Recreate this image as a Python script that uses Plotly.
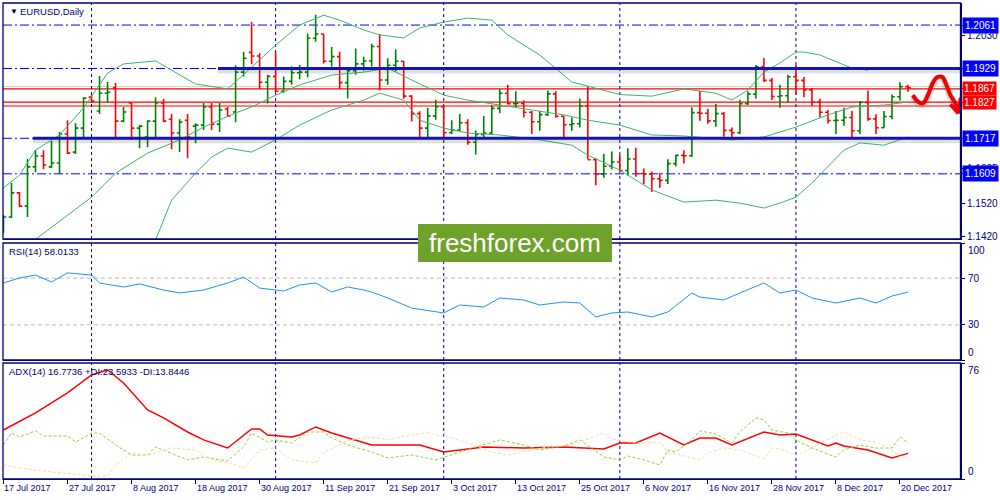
import plotly.graph_objects as go

# bar index 0 = 17 Jul 2017, one bar per trading day
date_ticks = [0, 8, 16, 24, 32, 40, 48, 56, 64, 72, 80, 88, 96, 104, 112]
date_labels = ["17 Jul 2017", "27 Jul 2017", "8 Aug 2017", "18 Aug 2017", "30 Aug 2017",
               "11 Sep 2017", "21 Sep 2017", "3 Oct 2017", "13 Oct 2017", "25 Oct 2017",
               "6 Nov 2017", "16 Nov 2017", "28 Nov 2017", "8 Dec 2017", "20 Dec 2017"]
month_lines = [11, 34, 55, 77, 99]

bar_open = [1.1444, 1.1478, 1.1551, 1.1511, 1.1630, 1.1663, 1.1630, 1.1642, 1.1730, 1.1675,
            1.1748, 1.1842, 1.1800, 1.1854, 1.1870, 1.1769, 1.1824, 1.1748, 1.1721, 1.1769,
            1.1824, 1.1775, 1.1733, 1.1772, 1.1754, 1.1757, 1.1812, 1.1760, 1.1806, 1.1797,
            1.1918, 1.1978, 1.1967, 1.1887, 1.1905, 1.1860, 1.1890, 1.1916, 1.1918, 1.2021,
            1.2034, 1.1951, 1.1965, 1.1886, 1.1922, 1.1943, 1.1952, 1.1996, 1.1894, 1.1939,
            1.1951, 1.1845, 1.1792, 1.1748, 1.1785, 1.1813, 1.1734, 1.1742, 1.1764, 1.1705,
            1.1729, 1.1733, 1.1808, 1.1854, 1.1822, 1.1823, 1.1796, 1.1767, 1.1789, 1.1852,
            1.1784, 1.1758, 1.1761, 1.1815, 1.1652, 1.1608, 1.1632, 1.1645, 1.1619, 1.1654,
            1.1610, 1.1608, 1.1594, 1.1589, 1.1640, 1.1665, 1.1664, 1.1795, 1.1793, 1.1770,
            1.1792, 1.1741, 1.1734, 1.1822, 1.1851, 1.1934, 1.1893, 1.1844, 1.1846, 1.1904,
            1.1893, 1.1864, 1.1827, 1.1796, 1.1771, 1.1772, 1.1780, 1.1740, 1.1826, 1.1776,
            1.1749, 1.1783, 1.1843, 1.1874]
bar_high = [1.1484, 1.1581, 1.1554, 1.1654, 1.1681, 1.1681, 1.1709, 1.1736, 1.1772, 1.1763,
            1.1842, 1.1848, 1.1906, 1.1888, 1.1885, 1.1812, 1.1824, 1.1757, 1.1772, 1.1842,
            1.1836, 1.1791, 1.1775, 1.1791, 1.1763, 1.1824, 1.1824, 1.1824, 1.1812, 1.1939,
            1.1980, 1.2070, 1.1975, 1.1910, 1.1980, 1.1905, 1.1935, 1.1940, 1.2035, 1.2092,
            1.2034, 1.1994, 1.1980, 1.1930, 1.1990, 1.1965, 1.2004, 1.2034, 1.1960, 1.1987,
            1.1952, 1.1848, 1.1799, 1.1810, 1.1834, 1.1815, 1.1772, 1.1791, 1.1775, 1.1741,
            1.1785, 1.1818, 1.1866, 1.1880, 1.1860, 1.1832, 1.1800, 1.1800, 1.1862, 1.1860,
            1.1785, 1.1780, 1.1838, 1.1875, 1.1656, 1.1669, 1.1677, 1.1666, 1.1687, 1.1688,
            1.1625, 1.1616, 1.1612, 1.1653, 1.1667, 1.1681, 1.1811, 1.1861, 1.1806, 1.1821,
            1.1797, 1.1750, 1.1834, 1.1860, 1.1940, 1.1961, 1.1900, 1.1880, 1.1910, 1.1940,
            1.1903, 1.1870, 1.1837, 1.1803, 1.1800, 1.1810, 1.1800, 1.1830, 1.1862, 1.1790,
            1.1800, 1.1850, 1.1887, 1.1880]
bar_low = [1.1429, 1.1475, 1.1508, 1.1478, 1.1614, 1.1623, 1.1627, 1.1608, 1.1669, 1.1669,
           1.1718, 1.1824, 1.1791, 1.1824, 1.1721, 1.1766, 1.1712, 1.1687, 1.1690, 1.1715,
           1.1766, 1.1684, 1.1675, 1.1657, 1.1702, 1.1742, 1.1742, 1.1736, 1.1782, 1.1766,
           1.1905, 1.1942, 1.1867, 1.1823, 1.1857, 1.1855, 1.1880, 1.1896, 1.1902, 1.2010,
           1.1944, 1.1935, 1.1867, 1.1838, 1.1910, 1.1922, 1.1935, 1.1862, 1.1880, 1.1920,
           1.1837, 1.1768, 1.1718, 1.1720, 1.1773, 1.1715, 1.1730, 1.1739, 1.1697, 1.1668,
           1.1715, 1.1729, 1.1793, 1.1820, 1.1811, 1.1780, 1.1730, 1.1740, 1.1785, 1.1780,
           1.1720, 1.1740, 1.1750, 1.1653, 1.1574, 1.1597, 1.1623, 1.1615, 1.1605, 1.1600,
           1.1577, 1.1554, 1.1567, 1.1578, 1.1632, 1.1640, 1.1660, 1.1770, 1.1761, 1.1752,
           1.1722, 1.1715, 1.1729, 1.1818, 1.1838, 1.1888, 1.1833, 1.1810, 1.1826, 1.1850,
           1.1842, 1.1815, 1.1780, 1.1762, 1.1730, 1.1755, 1.1717, 1.1730, 1.1770, 1.1730,
           1.1749, 1.1775, 1.1832, 1.1858]
bar_close = [1.1478, 1.1551, 1.1511, 1.1630, 1.1663, 1.1636, 1.1642, 1.1730, 1.1672, 1.1748,
             1.1839, 1.1830, 1.1854, 1.1857, 1.1769, 1.1797, 1.1748, 1.1754, 1.1769, 1.1824,
             1.1769, 1.1733, 1.1766, 1.1721, 1.1757, 1.1812, 1.1760, 1.1803, 1.1785, 1.1918,
             1.1960, 1.1967, 1.1887, 1.1905, 1.1860, 1.1890, 1.1916, 1.1918, 1.2021, 1.2034,
             1.1951, 1.1965, 1.1886, 1.1922, 1.1943, 1.1952, 1.1996, 1.1894, 1.1939, 1.1951,
             1.1845, 1.1792, 1.1748, 1.1785, 1.1813, 1.1734, 1.1742, 1.1764, 1.1705, 1.1729,
             1.1733, 1.1808, 1.1854, 1.1822, 1.1823, 1.1796, 1.1767, 1.1789, 1.1852, 1.1784,
             1.1758, 1.1761, 1.1815, 1.1652, 1.1608, 1.1632, 1.1645, 1.1619, 1.1654, 1.1610,
             1.1608, 1.1594, 1.1589, 1.1640, 1.1665, 1.1664, 1.1795, 1.1793, 1.1770, 1.1792,
             1.1741, 1.1734, 1.1822, 1.1851, 1.1934, 1.1893, 1.1844, 1.1846, 1.1904, 1.1893,
             1.1864, 1.1827, 1.1796, 1.1771, 1.1772, 1.1780, 1.1740, 1.1826, 1.1776, 1.1749,
             1.1783, 1.1843, 1.1874, 1.1870]

# Bollinger bands at these bar indices
bb_up_idx = [0, 2, 4, 7, 10, 13, 15, 19, 24, 28, 31, 34, 37, 40, 42, 45, 47, 50, 52, 55, 58, 61,
             63, 67, 71, 77, 81, 85, 89, 91, 93, 95, 97, 99, 100, 102, 106, 108]
bb_up = [1.1566, 1.1605, 1.1681, 1.1727, 1.1809, 1.1915, 1.1943, 1.1952, 1.1882, 1.1867, 1.1933,
         1.2000, 1.2061, 1.2091, 1.2076, 1.2046, 1.2031, 1.2022, 1.2052, 1.2070, 1.2082, 1.2076,
         1.2031, 1.1970, 1.1888, 1.1850, 1.1845, 1.1867, 1.1854, 1.1833, 1.1864, 1.1918, 1.1946,
         1.1979, 1.1979, 1.1970, 1.1930, 1.1924]
bb_mid_idx = [0, 4, 11, 14, 18, 22, 25, 29, 31, 34, 37, 41, 45, 48, 51, 55, 58, 62, 66, 70, 73,
              77, 81, 85, 91, 95, 99, 103, 106, 110, 113]
bb_mid = [1.1340, 1.1410, 1.1538, 1.1611, 1.1672, 1.1712, 1.1751, 1.1794, 1.1812, 1.1848, 1.1879,
          1.1909, 1.1918, 1.1930, 1.1894, 1.1848, 1.1833, 1.1818, 1.1803, 1.1788, 1.1772, 1.1757,
          1.1727, 1.1724, 1.1712, 1.1721, 1.1751, 1.1788, 1.1812, 1.1818, 1.1827]
bb_low_idx = [14, 19, 21, 24, 26, 28, 31, 34, 37, 41, 45, 47, 50, 52, 55, 58, 62, 67, 71, 73, 77,
              81, 85, 89, 92, 95, 97, 99, 101, 103, 105, 107, 110, 113]
bb_low = [1.1300, 1.1408, 1.1529, 1.1611, 1.1660, 1.1687, 1.1675, 1.1712, 1.1757, 1.1803, 1.1833,
          1.1854, 1.1833, 1.1772, 1.1748, 1.1733, 1.1727, 1.1712, 1.1696, 1.1666, 1.1620, 1.1560,
          1.1523, 1.1529, 1.1520, 1.1505, 1.1520, 1.1538, 1.1581, 1.1630, 1.1681, 1.1703, 1.1696,
          1.1721]

rsi_idx = [0, 2, 4, 6, 8, 11, 12, 15, 17, 20, 22, 25, 28, 30, 32, 35, 37, 39, 41, 43, 45, 46, 48,
           51, 55, 57, 60, 62, 65, 67, 70, 72, 74, 76, 78, 81, 83, 86, 87, 90, 92, 95, 97, 99,
           101, 104, 107, 109, 111, 113]
rsi = [65.8, 70.1, 72.6, 66.7, 74.4, 72.6, 65.8, 62.4, 65.0, 59.8, 57.3, 59.8, 65.8, 70.9, 61.5,
       59.0, 64.1, 65.8, 58.1, 62.4, 59.8, 58.1, 53.0, 44.4, 40.2, 47.0, 45.3, 53.0, 51.3, 47.0,
       49.6, 48.7, 36.8, 40.2, 41.0, 36.8, 41.0, 57.3, 53.8, 51.3, 57.3, 65.8, 57.3, 59.8, 53.0,
       48.7, 53.0, 48.7, 54.7, 58.0]

adx_idx = [0, 4, 8, 11, 13, 15, 18, 20, 23, 25, 28, 31, 32, 33, 36, 37, 39, 41, 46, 52, 55, 60,
           65, 70, 75, 77, 79, 82, 85, 87, 89, 91, 95, 97, 99, 103, 104, 105, 108, 111, 113]
adx = [32.1, 43.3, 56.4, 68.2, 71.4, 62.9, 45.2, 40.0, 30.8, 25.6, 20.3, 32.8, 32.8, 28.8, 27.5,
       28.8, 34.1, 30.1, 22.3, 22.3, 17.7, 21.0, 20.3, 21.0, 19.7, 23.6, 23.6, 30.1, 22.3, 26.9,
       26.9, 22.3, 30.8, 28.8, 29.5, 21.6, 23.6, 21.6, 19.0, 13.8, 16.8]
pdi_idx = [0, 1, 2, 4, 5, 8, 9, 11, 12, 14, 16, 18, 19, 21, 23, 25, 28, 30, 31, 33, 34, 36, 38,
           40, 41, 43, 46, 48, 51, 54, 57, 59, 62, 65, 67, 70, 72, 75, 77, 78, 80, 82, 83, 84,
           86, 87, 89, 91, 92, 94, 95, 96, 98, 99, 101, 104, 105, 107, 109, 111, 112, 113]
pdi = [22.3, 30.1, 27.5, 31.5, 28.2, 28.2, 24.2, 30.1, 30.1, 22.3, 15.7, 15.7, 21.0, 17.0, 12.5,
       14.4, 11.8, 21.0, 30.1, 24.2, 25.6, 23.6, 30.8, 30.8, 26.9, 22.3, 17.7, 13.8, 15.7, 12.5,
       17.7, 21.0, 25.6, 22.3, 19.0, 21.6, 25.6, 14.4, 12.5, 15.1, 12.5, 9.2, 19.0, 17.7, 25.6,
       31.5, 29.5, 23.6, 30.8, 40.0, 38.7, 32.1, 30.1, 25.6, 20.3, 14.4, 19.0, 22.3, 20.3, 20.3,
       27.5, 23.6]
mdi_idx = [0, 2, 6, 11, 13, 14, 16, 18, 21, 24, 26, 29, 30, 32, 34, 36, 39, 40, 41, 43, 46, 48,
           51, 53, 56, 58, 61, 63, 66, 68, 71, 75, 76, 79, 82, 83, 85, 87, 88, 90, 92, 95, 96, 97,
           99, 100, 104, 105, 107, 109, 111, 112, 113]
mdi = [9.2, 7.2, 4.6, 2.0, 2.0, 9.2, 17.0, 15.7, 20.3, 19.0, 12.5, 9.2, 7.2, 19.0, 20.3, 12.5,
       10.5, 17.7, 19.7, 25.6, 27.5, 25.6, 28.8, 30.1, 26.9, 23.6, 17.7, 15.7, 19.0, 21.0, 22.3,
       30.1, 26.2, 23.6, 24.2, 17.7, 15.1, 12.5, 17.0, 20.3, 19.0, 13.1, 20.3, 19.7, 15.7, 17.7,
       28.8, 30.8, 25.6, 24.2, 19.0, 14.4, 13.8]

# levels drawn on the chart
dashdot_levels = [1.2061, 1.1929, 1.1717, 1.1609]
red_levels = [1.1867, 1.1827, 1.1815]
thick_levels = [1.1929, 1.1717]
thick_start = [26.8, 3.7]
blue_labels = ["1.2061", "1.1929", "1.1717", "1.1609"]
red_labels = ["1.1867", "1.1827"]
price_ticks = [1.2030, 1.1625, 1.1520, 1.1420]

# hand drawn forecast arrow
arrow_x = [113.6, 114.3, 114.9, 115.6, 116.1, 116.7, 117.3, 117.7, 118.3, 118.9, 119.3]
arrow_y = [1.1848, 1.1827, 1.1824, 1.1854, 1.1885, 1.1903, 1.1903, 1.1885, 1.1848, 1.1824, 1.1794]
head_x = [118.3, 119.3, 119.6]
head_y = [1.1820, 1.1794, 1.1840]

NAVY = "#000080"
FONT = "Liberation Sans"
X_RANGE = [-0.06, 119.56]
XDOM = [0.003, 0.9605]
MAIN_DOM = [0.522, 0.994]
RSI_DOM = [0.28, 0.514]
ADX_DOM = [0.042, 0.274]

bars = list(range(len(bar_open)))

fig = go.Figure()

for lv in dashdot_levels:
    fig.add_shape(type="line", xref="paper", yref="y", x0=XDOM[0], x1=XDOM[1], y0=lv, y1=lv,
                  line=dict(color="#0000ff", width=1, dash="9px,3px,2px,3px"), layer="below")
fig.add_shape(type="line", xref="paper", yref="y", x0=XDOM[0], x1=XDOM[1], y0=1.1874, y1=1.1874,
              line=dict(color="#d0d0d0", width=1), layer="below")
for lv in red_levels:
    fig.add_shape(type="line", xref="paper", yref="y", x0=XDOM[0], x1=XDOM[1], y0=lv, y1=lv,
                  line=dict(color="#ff0000", width=1.2), layer="below")

# month separators in every pane
for m in month_lines:
    for ya in ["y domain", "y2 domain", "y3 domain"]:
        fig.add_shape(type="line", xref="x", yref=ya, x0=m, x1=m, y0=0, y1=1,
                      line=dict(color=NAVY, width=1, dash="3px,3px"), layer="below")

for lv in [70, 30]:
    fig.add_shape(type="line", xref="paper", yref="y2", x0=XDOM[0], x1=XDOM[1], y0=lv, y1=lv,
                  line=dict(color="#b8b8b8", width=1, dash="4px,3px"), layer="below")

fig.add_trace(go.Ohlc(x=bars, open=bar_open, high=bar_high, low=bar_low, close=bar_close,
                      xaxis="x", yaxis="y", tickwidth=0.35, hoverinfo="skip",
                      increasing=dict(line=dict(color="#008000", width=1.6)),
                      decreasing=dict(line=dict(color="#ff0000", width=1.6))))

for bx, by in [(bb_up_idx, bb_up), (bb_mid_idx, bb_mid), (bb_low_idx, bb_low)]:
    fig.add_trace(go.Scatter(x=bx, y=by, mode="lines", xaxis="x", yaxis="y", hoverinfo="skip",
                             line=dict(color="#3cb371", width=1)))

# thick support / resistance lines with a soft shadow
for lv, x0 in zip(thick_levels, thick_start):
    fig.add_trace(go.Scatter(x=[x0, X_RANGE[1]], y=[lv - 0.0006, lv - 0.0006], mode="lines",
                             xaxis="x", yaxis="y", hoverinfo="skip",
                             line=dict(color="rgba(60,60,60,0.16)", width=6)))
    fig.add_trace(go.Scatter(x=[x0, X_RANGE[1]], y=[lv, lv], mode="lines", xaxis="x", yaxis="y",
                             hoverinfo="skip", line=dict(color="#1414b4", width=3)))

fig.add_trace(go.Scatter(x=arrow_x, y=[v - 0.0004 for v in arrow_y], mode="lines", xaxis="x",
                         yaxis="y", hoverinfo="skip",
                         line=dict(color="rgba(80,80,80,0.22)", width=7, shape="spline")))
fig.add_trace(go.Scatter(x=arrow_x, y=arrow_y, mode="lines", xaxis="x", yaxis="y",
                         hoverinfo="skip", line=dict(color="#ee0000", width=4, shape="spline")))
fig.add_trace(go.Scatter(x=head_x, y=head_y, mode="lines", xaxis="x", yaxis="y",
                         hoverinfo="skip", line=dict(color="#ee0000", width=4)))

fig.add_trace(go.Scatter(x=rsi_idx, y=rsi, mode="lines", xaxis="x2", yaxis="y2", hoverinfo="skip",
                         line=dict(color="#1e90ff", width=1)))

fig.add_trace(go.Scatter(x=adx_idx, y=adx, mode="lines", xaxis="x3", yaxis="y3", hoverinfo="skip",
                         line=dict(color="#ff0000", width=1.5)))
fig.add_trace(go.Scatter(x=pdi_idx, y=pdi, mode="lines", xaxis="x3", yaxis="y3", hoverinfo="skip",
                         line=dict(color="#9acd32", width=1, dash="3px,2px")))
fig.add_trace(go.Scatter(x=mdi_idx, y=mdi, mode="lines", xaxis="x3", yaxis="y3", hoverinfo="skip",
                         line=dict(color="#f5d9a8", width=1, dash="3px,2px")))

# pane frames
for dom in [MAIN_DOM, RSI_DOM, ADX_DOM]:
    fig.add_shape(type="rect", xref="paper", yref="paper", x0=XDOM[0], x1=XDOM[1],
                  y0=dom[0], y1=dom[1], line=dict(color=NAVY, width=1.3), layer="above")

LABEL = dict(family=FONT, size=10, color=NAVY)
SMALL = dict(family=FONT, size=9.5, color=NAVY)

ann = []
ann.append(dict(x=0.008, y=0.978, xref="paper", yref="paper", text="▼", showarrow=False,
                xanchor="left", yanchor="middle", font=dict(family=FONT, size=8, color="#000000")))
ann.append(dict(x=0.018, y=0.978, xref="paper", yref="paper", text="EURUSD,Daily", showarrow=False,
                xanchor="left", yanchor="middle", font=SMALL))
ann.append(dict(x=0.007, y=0.498, xref="paper", yref="paper", text="RSI(14) 58.0133", showarrow=False,
                xanchor="left", yanchor="middle", font=SMALL))
ann.append(dict(x=0.007, y=0.258, xref="paper", yref="paper",
                text="ADX(14) 16.7736 +DI:23.5933 -DI:13.8446", showarrow=False,
                xanchor="left", yanchor="middle", font=SMALL))

for t in price_ticks:
    ann.append(dict(x=0.965, y=t, xref="paper", yref="y", text=f"{t:.4f}", showarrow=False,
                    xanchor="left", yanchor="middle", font=LABEL))
for lv, txt in zip(dashdot_levels, blue_labels):
    ann.append(dict(x=0.962, y=lv, xref="paper", yref="y", text=txt, showarrow=False,
                    xanchor="left", yanchor="middle", bgcolor="#0000ff", borderpad=2,
                    font=dict(family=FONT, size=10, color="white")))
for lv, txt in zip(red_levels[:2], red_labels):
    ann.append(dict(x=0.962, y=lv, xref="paper", yref="y", text=txt, showarrow=False,
                    xanchor="left", yanchor="middle", bgcolor="#ff0000", borderpad=1,
                    font=dict(family=FONT, size=10, color="white")))

ann.append(dict(x=0.966, y=100, xref="paper", yref="y2", text="100", showarrow=False,
                xanchor="left", yanchor="top", font=LABEL))
ann.append(dict(x=0.966, y=70, xref="paper", yref="y2", text="70", showarrow=False,
                xanchor="left", yanchor="middle", font=LABEL))
ann.append(dict(x=0.966, y=30, xref="paper", yref="y2", text="30", showarrow=False,
                xanchor="left", yanchor="middle", font=LABEL))
ann.append(dict(x=0.966, y=0, xref="paper", yref="y2", text="0", showarrow=False,
                xanchor="left", yanchor="bottom", font=LABEL))
ann.append(dict(x=0.966, y=76, xref="paper", yref="y3", text="76", showarrow=False,
                xanchor="left", yanchor="top", font=LABEL))
ann.append(dict(x=0.966, y=0, xref="paper", yref="y3", text="0", showarrow=False,
                xanchor="left", yanchor="bottom", font=LABEL))

for d, lab in zip(date_ticks, date_labels):
    ann.append(dict(x=d, y=0.024, xref="x3", yref="paper", text=lab, showarrow=False,
                    xanchor="left", yanchor="middle", xshift=-1,
                    font=dict(family=FONT, size=9, color=NAVY)))

# watermark banner
fig.add_shape(type="rect", xref="paper", yref="paper", x0=0.418, x1=0.612, y0=0.476, y1=0.552,
              fillcolor="#6fa22b", line=dict(width=0), layer="above")
ann.append(dict(x=0.515, y=0.514, xref="paper", yref="paper", text="freshforex.com",
                showarrow=False, yanchor="middle", font=dict(family=FONT, size=26, color="white")))

axis_common = dict(showgrid=False, zeroline=False, fixedrange=True, linecolor=NAVY,
                   tickcolor=NAVY)
fig.update_layout(
    width=1000, height=500, margin=dict(l=0, r=0, t=0, b=0),
    paper_bgcolor="white", plot_bgcolor="white", showlegend=False,
    annotations=ann,
    xaxis=dict(domain=XDOM, range=X_RANGE, anchor="y", showticklabels=False,
               rangeslider=dict(visible=False), **axis_common),
    xaxis2=dict(domain=XDOM, range=X_RANGE, anchor="y2", matches="x", showticklabels=False,
                **axis_common),
    xaxis3=dict(domain=XDOM, range=X_RANGE, anchor="y3", matches="x", showticklabels=False,
                tickvals=date_ticks, ticks="outside", ticklen=4, **axis_common),
    yaxis=dict(domain=MAIN_DOM, range=[1.1411, 1.2128], anchor="x", side="right",
               tickvals=price_ticks + dashdot_levels + red_levels[:2], ticks="outside", ticklen=3,
               showticklabels=False, **axis_common),
    yaxis2=dict(domain=RSI_DOM, range=[0, 100], anchor="x2", side="right",
                tickvals=[100, 70, 30, 0], ticks="outside", ticklen=3, showticklabels=False,
                **axis_common),
    yaxis3=dict(domain=ADX_DOM, range=[0, 76], anchor="x3", side="right",
                tickvals=[76, 0], ticks="outside", ticklen=3, showticklabels=False,
                **axis_common),
)

fig.write_html("out.html", config={"displayModeBar": False},
               post_script="document.body.style.margin='0';")
